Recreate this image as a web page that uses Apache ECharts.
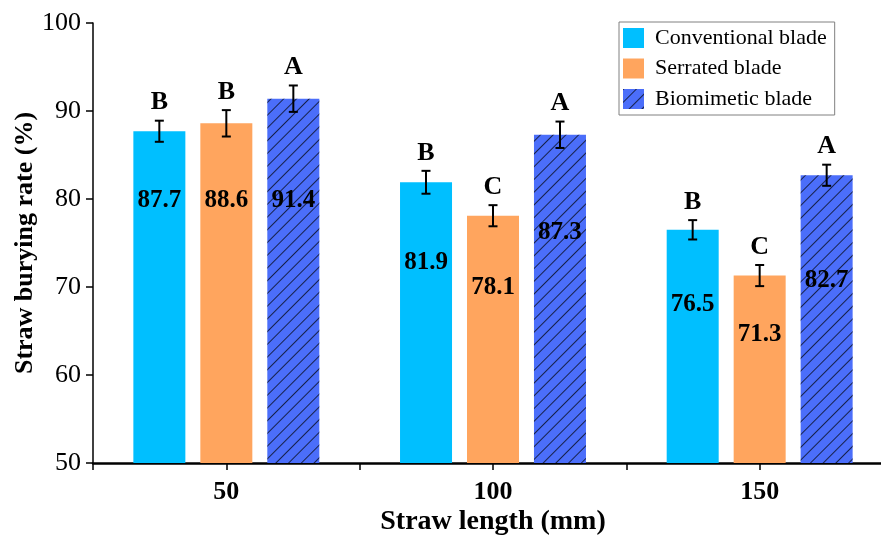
<!DOCTYPE html>
<html>
<head>
<meta charset="utf-8">
<script src="https://cdn.jsdelivr.net/npm/echarts@6/dist/echarts.min.js"></script>
<style>
  html, body { margin: 0; padding: 0; background: #fff; overflow: hidden; }
  #main { width: 881px; height: 535px; }
</style>
</head>
<body>
<div id="main"></div>
<script>
// straw length groups
var categories = ['50', '100', '150'];
var yTicks = [50, 60, 70, 80, 90, 100];

// burying rate (%) per blade
var conventional = [87.7, 81.9, 76.5];
var serrated = [88.6, 78.1, 71.3];
var biomimetic = [91.4, 87.3, 82.7];

// error bars (+/-)
var conventionalErr = [1.2, 1.3, 1.1];
var serratedErr = [1.5, 1.2, 1.2];
var biomimeticErr = [1.5, 1.5, 1.2];

// significance letters
var conventionalSig = ['B', 'B', 'B'];
var serratedSig = ['B', 'C', 'C'];
var biomimeticSig = ['A', 'A', 'A'];

var serif = 'Liberation Serif, Times New Roman, serif';
var BAR_W = 52, BAR_GAP = 15;

var mychart = echarts.init(document.getElementById('main'));

// label distance below bar top (px) - just styling
var labelDrop = [[69, 80, 75], [77, 72, 59], [102, 98, 105]];

function barData(values, k) {
    return values.map(function (v, i) {
        return {
            value: v,
            label: { position: ['50%', labelDrop[k][i]] }
        };
    });
}

function errSeries(values, errs, sig, k) {
    var shift = (k - 1) * (BAR_W + BAR_GAP);
    return {
        name: 'err' + k,
        type: 'custom',
        z: 5,
        silent: true,
        data: values.map(function (v, i) { return [i, v, errs[i]]; }),
        renderItem: function (params, api) {
            var idx = api.value(0), v = api.value(1), e = api.value(2);
            var hi = api.coord([idx, v + e]);
            var lo = api.coord([idx, v - e]);
            var x = hi[0] + shift;
            var st = { stroke: '#000', lineWidth: 2 };
            return {
                type: 'group',
                children: [
                    { type: 'line', shape: { x1: x, y1: hi[1], x2: x, y2: lo[1] }, style: st },
                    { type: 'line', shape: { x1: x - 4.5, y1: hi[1], x2: x + 4.5, y2: hi[1] }, style: st },
                    { type: 'line', shape: { x1: x - 4.5, y1: lo[1], x2: x + 4.5, y2: lo[1] }, style: st },
                    {
                        type: 'text',
                        style: {
                            text: sig[params.dataIndex],
                            x: x, y: hi[1] - 5,
                            align: 'center', verticalAlign: 'bottom',
                            textAlign: 'center', textVerticalAlign: 'bottom',
                            font: 'bold 26px ' + serif,
                            fill: '#000'
                        }
                    }
                ]
            };
        }
    };
}

var barLabel = {
    show: true,
    align: 'center',
    verticalAlign: 'middle',
    color: '#000',
    fontFamily: serif,
    fontWeight: 'bold',
    fontSize: 25
};

option = {
    backgroundColor: '#fff',
    animation: false,
    textStyle: { fontFamily: serif },
    grid: {
        left: 93,
        top: 23,
        right: -12,
        bottom: 72,
        containLabel: false,
        outerBoundsMode: 'none'
    },
    legend: {
        orient: 'vertical',
        left: 619,
        top: 22,
        icon: 'rect',
        itemWidth: 21,
        itemHeight: 20,
        itemGap: 8.5,
        padding: [5, 8, 5, 4],
        borderColor: '#808080',
        borderWidth: 1,
        textStyle: { color: '#000', fontSize: 22, fontFamily: serif, padding: [0, 0, 0, 6] },
        data: ['Conventional blade', 'Serrated blade', 'Biomimetic blade']
    },
    xAxis: [
        {
            type: 'category',
            data: categories,
            name: 'Straw length (mm)',
            nameLocation: 'middle',
            nameGap: 45,
            nameMoveOverlap: false,
            nameTextStyle: { color: '#000', fontSize: 28, fontWeight: 'bold', fontFamily: serif },
            axisLine: { lineStyle: { color: '#000', width: 2.5 } },
            axisTick: { show: true, length: 7, lineStyle: { color: '#000', width: 1.5 } },
            axisLabel: { color: '#000', fontSize: 26, fontWeight: 'bold', fontFamily: serif, margin: 16 }
        },
        {
            type: 'category',
            data: categories,
            position: 'bottom',
            axisLine: { show: false },
            axisTick: { show: true, alignWithLabel: true, length: 7, lineStyle: { color: '#000', width: 1.5 } },
            axisLabel: { show: false }
        }
    ],
    yAxis: {
        type: 'value',
        min: yTicks[0],
        max: yTicks[yTicks.length - 1],
        interval: 10,
        name: 'Straw burying rate (%)',
        nameLocation: 'middle',
        nameGap: 55,
        nameMoveOverlap: false,
        nameTextStyle: { color: '#000', fontSize: 26, fontWeight: 'bold', fontFamily: serif },
        splitLine: { show: false },
        axisLine: { show: true, lineStyle: { color: '#000', width: 1.5 } },
        axisTick: { show: true, length: 7, lineStyle: { color: '#000', width: 1.5 } },
        axisLabel: { color: '#000', fontSize: 26, fontFamily: serif, margin: 12 }
    },
    series: [
        {
            name: 'Conventional blade',
            type: 'bar',
            barWidth: BAR_W,
            barGap: (BAR_GAP / BAR_W * 100).toFixed(1) + '%',
            itemStyle: { color: '#00BFFF' },
            label: barLabel,
            data: barData(conventional, 0)
        },
        {
            name: 'Serrated blade',
            type: 'bar',
            barWidth: BAR_W,
            barGap: (BAR_GAP / BAR_W * 100).toFixed(1) + '%',
            itemStyle: { color: '#FFA55E' },
            label: barLabel,
            data: barData(serrated, 1)
        },
        {
            name: 'Biomimetic blade',
            type: 'bar',
            barWidth: BAR_W,
            barGap: (BAR_GAP / BAR_W * 100).toFixed(1) + '%',
            itemStyle: {
                color: '#4B6EFA',
                decal: {
                    symbol: 'rect',
                    symbolSize: 1,
                    dashArrayX: [1, 0],
                    dashArrayY: [1, 8],
                    rotation: -Math.PI / 4,
                    color: 'rgba(0,0,0,0.7)'
                }
            },
            label: barLabel,
            data: barData(biomimetic, 2)
        },
        errSeries(conventional, conventionalErr, conventionalSig, 0),
        errSeries(serrated, serratedErr, serratedSig, 1),
        errSeries(biomimetic, biomimeticErr, biomimeticSig, 2)
    ]
};
mychart.setOption(option);
</script>
</body>
</html>
